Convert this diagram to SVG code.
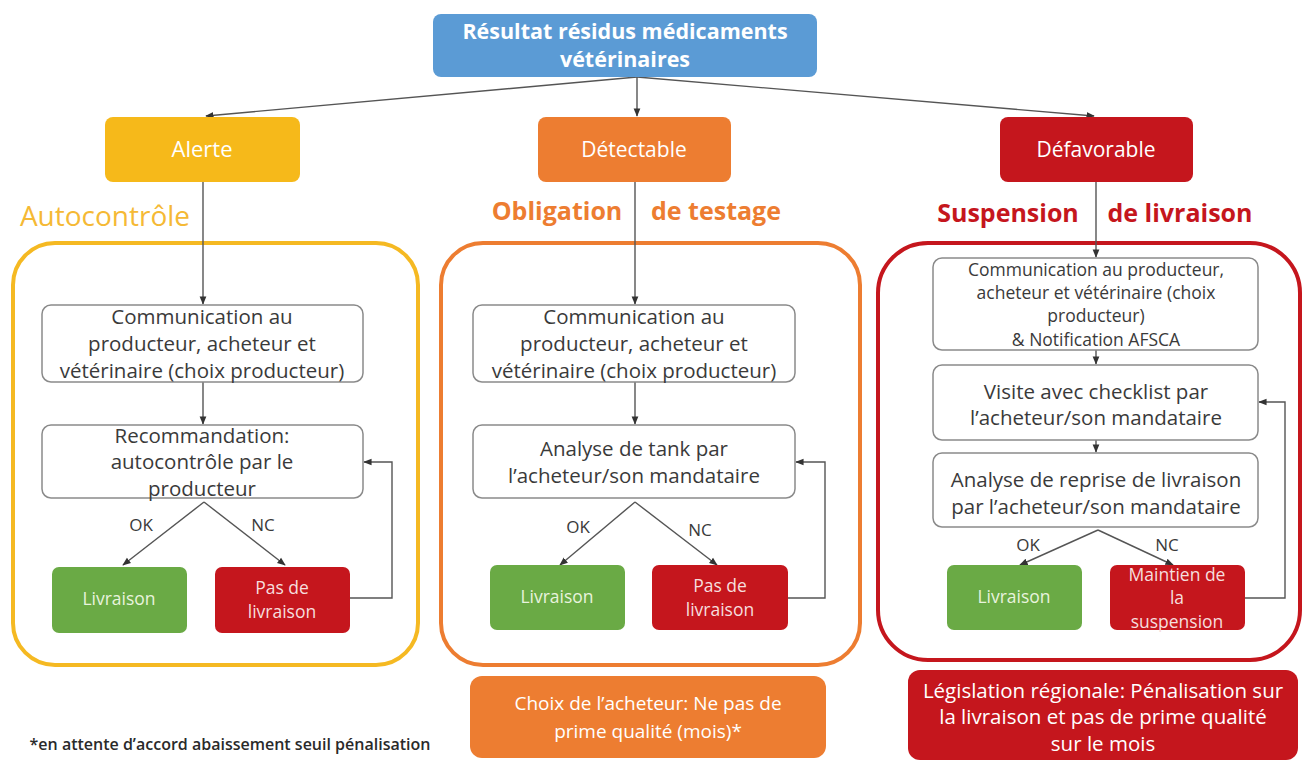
<svg xmlns="http://www.w3.org/2000/svg" width="1303" height="763" viewBox="0 0 1303 763">
<style>
text{font-family:"Open Sans","Liberation Sans",Arial,sans-serif;text-anchor:middle}
.w{fill:#fff}
.d{fill:#3a3a3a;font-weight:500}
.box{fill:#fff;stroke:#8a8a8a;stroke-width:1.5}
.ln{fill:none;stroke:#555;stroke-width:1.4}
.f18{font-size:20.5px}
.f15{font-size:17.5px}
.s{font-size:17.5px}
</style>
<defs>
<marker id="ah" viewBox="0 0 10 10" refX="9" refY="5" markerWidth="6" markerHeight="6" orient="auto-start-reverse"><path d="M0,1 L10,5 L0,9 z" fill="#333"/></marker>
</defs>
<rect width="1303" height="763" fill="#fff"/>

<g id="containers">
<rect x="13" y="243" width="405" height="422" rx="42" fill="none" stroke="#f5b922" stroke-width="4"/>
<rect x="441" y="243" width="419" height="422" rx="42" fill="none" stroke="#ed7d31" stroke-width="4"/>
<rect x="878" y="243" width="422" height="417" rx="50" fill="none" stroke="#c5161d" stroke-width="4"/>
</g>

<g id="connectors">
<line class="ln" x1="637" y1="77" x2="206" y2="116" marker-end="url(#ah)"/>
<line class="ln" x1="637" y1="77" x2="637" y2="116" marker-end="url(#ah)"/>
<line class="ln" x1="637" y1="77" x2="1094" y2="116" marker-end="url(#ah)"/>
<line class="ln" x1="203" y1="182" x2="203" y2="304" marker-end="url(#ah)"/>
<line class="ln" x1="203" y1="382" x2="203" y2="424" marker-end="url(#ah)"/>
<line class="ln" x1="204" y1="502" x2="123" y2="565" marker-end="url(#ah)"/>
<line class="ln" x1="204" y1="502" x2="285" y2="565" marker-end="url(#ah)"/>
<polyline class="ln" points="350,598 392,598 392,462 364,462" marker-end="url(#ah)"/>
<line class="ln" x1="635" y1="182" x2="635" y2="304" marker-end="url(#ah)"/>
<line class="ln" x1="635" y1="382" x2="635" y2="424" marker-end="url(#ah)"/>
<line class="ln" x1="635" y1="502" x2="560" y2="565" marker-end="url(#ah)"/>
<line class="ln" x1="635" y1="502" x2="717" y2="565" marker-end="url(#ah)"/>
<polyline class="ln" points="788,598 825,598 825,462 796,462" marker-end="url(#ah)"/>
<line class="ln" x1="1096" y1="182" x2="1096" y2="257" marker-end="url(#ah)"/>
<line class="ln" x1="1096" y1="350" x2="1096" y2="364" marker-end="url(#ah)"/>
<line class="ln" x1="1096" y1="440" x2="1096" y2="452" marker-end="url(#ah)"/>
<line class="ln" x1="1098" y1="530" x2="1020" y2="565" marker-end="url(#ah)"/>
<line class="ln" x1="1098" y1="530" x2="1173" y2="565" marker-end="url(#ah)"/>
<polyline class="ln" points="1245,598 1285,598 1285,402 1259,402" marker-end="url(#ah)"/>
<text class="d" font-size="17" x="141" y="531">OK</text>
<text class="d" font-size="17" x="263" y="531">NC</text>
<text class="d" font-size="17" x="578" y="533">OK</text>
<text class="d" font-size="17" x="700" y="536">NC</text>
<text class="d" font-size="17" x="1028" y="551">OK</text>
<text class="d" font-size="17" x="1167" y="551">NC</text>
</g>

<g id="n-top">
<rect x="433" y="14" width="384" height="63" rx="8" fill="#5b9bd5"/>
<text class="w" font-size="21.5" font-weight="bold" x="625" y="39">Résultat résidus médicaments</text>
<text class="w" font-size="21.5" font-weight="bold" x="625" y="67">vétérinaires</text>
</g>

<g id="n-alerte">
<rect x="105" y="117" width="195" height="65" rx="8" fill="#f6b91a"/>
<text class="w" font-size="22" x="202" y="157">Alerte</text>
</g>
<g id="n-detectable">
<rect x="538" y="117" width="193" height="65" rx="8" fill="#ed7d31"/>
<text class="w" font-size="21" x="634" y="157">Détectable</text>
</g>
<g id="n-defavorable">
<rect x="1000" y="117" width="193" height="65" rx="8" fill="#c5161d"/>
<text class="w" font-size="21" x="1096" y="157">Défavorable</text>
</g>

<g id="t-labels">
<text font-size="28" x="105" y="226" fill="#f5b935">Autocontrôle</text>
<text font-size="25" font-weight="bold" x="557" y="220" fill="#ed7d31">Obligation</text>
<text font-size="25" font-weight="bold" x="716" y="220" fill="#ed7d31">de testage</text>
<text font-size="25" font-weight="bold" x="1008" y="222" fill="#c5161d">Suspension</text>
<text font-size="25" font-weight="bold" x="1180" y="222" fill="#c5161d">de livraison</text>
</g>

<g id="c1-comm">
<rect class="box" x="42" y="305" width="321" height="77" rx="9"/>
<text class="d f18" x="202" y="324">Communication au</text>
<text class="d f18" x="202" y="351">producteur, acheteur et</text>
<text class="d f18" x="202" y="378">vétérinaire (choix producteur)</text>
</g>
<g id="c1-reco">
<rect class="box" x="42" y="425" width="321" height="73" rx="9"/>
<text class="d f18" x="202" y="443">Recommandation:</text>
<text class="d f18" x="202" y="469">autocontrôle par le</text>
<text class="d f18" x="202" y="496">producteur</text>
</g>
<g id="c1-livr">
<rect x="52" y="567" width="135" height="66" rx="7" fill="#6aaa45"/>
<text class="s" fill="#e8f3dd" x="119" y="605">Livraison</text>
</g>
<g id="c1-pas">
<rect x="215" y="567" width="135" height="66" rx="7" fill="#c5161d"/>
<text class="s" fill="#f6dede" x="282" y="594">Pas de</text>
<text class="s" fill="#f6dede" x="282" y="618">livraison</text>
</g>

<g id="c2-comm">
<rect class="box" x="473" y="305" width="322" height="77" rx="9"/>
<text class="d f18" x="634" y="324">Communication au</text>
<text class="d f18" x="634" y="351">producteur, acheteur et</text>
<text class="d f18" x="634" y="378">vétérinaire (choix producteur)</text>
</g>
<g id="c2-analyse">
<rect class="box" x="473" y="425" width="322" height="73" rx="9"/>
<text class="d f18" x="634" y="456">Analyse de tank par</text>
<text class="d f18" x="634" y="483">l’acheteur/son mandataire</text>
</g>
<g id="c2-livr">
<rect x="490" y="565" width="135" height="65" rx="7" fill="#6aaa45"/>
<text class="s" fill="#e8f3dd" x="557" y="603">Livraison</text>
</g>
<g id="c2-pas">
<rect x="652" y="565" width="136" height="65" rx="7" fill="#c5161d"/>
<text class="s" fill="#f6dede" x="720" y="592">Pas de</text>
<text class="s" fill="#f6dede" x="720" y="616">livraison</text>
</g>

<g id="c3-comm">
<rect class="box" x="933" y="258" width="325" height="92" rx="9"/>
<text class="d f15" x="1096" y="276">Communication au producteur,</text>
<text class="d f15" x="1096" y="299">acheteur et vétérinaire (choix</text>
<text class="d f15" x="1096" y="322">producteur)</text>
<text class="d f15" x="1096" y="346">&amp; Notification AFSCA</text>
</g>
<g id="c3-visite">
<rect class="box" x="933" y="365" width="325" height="75" rx="9"/>
<text class="d f18" x="1096" y="399">Visite avec checklist par</text>
<text class="d f18" x="1096" y="425">l’acheteur/son mandataire</text>
</g>
<g id="c3-analyse">
<rect class="box" x="933" y="453" width="325" height="74" rx="9"/>
<text class="d f18" x="1096" y="487">Analyse de reprise de livraison</text>
<text class="d f18" x="1096" y="514">par l’acheteur/son mandataire</text>
</g>
<g id="c3-livr">
<rect x="947" y="565" width="135" height="65" rx="7" fill="#6aaa45"/>
<text class="s" fill="#e8f3dd" x="1014" y="603">Livraison</text>
</g>
<g id="c3-maintien">
<rect x="1110" y="565" width="135" height="65" rx="7" fill="#c5161d"/>
<text class="s" fill="#f6dede" x="1177" y="581">Maintien de</text>
<text class="s" fill="#f6dede" x="1177" y="604">la</text>
<text class="s" fill="#f6dede" x="1177" y="628">suspension</text>
</g>

<g id="b-orange">
<rect x="470" y="676" width="356" height="82" rx="12" fill="#ed7d31"/>
<text class="w" font-size="19" x="648" y="710">Choix de l’acheteur: Ne pas de</text>
<text class="w" font-size="19" x="648" y="738">prime qualité (mois)*</text>
</g>
<g id="b-red">
<rect x="908" y="670" width="390" height="90" rx="12" fill="#c5161d"/>
<text class="w" font-size="20.5" x="1103" y="698">Législation régionale: Pénalisation sur</text>
<text class="w" font-size="20.5" x="1103" y="724">la livraison et pas de prime qualité</text>
<text class="w" font-size="20.5" x="1103" y="751">sur le mois</text>
</g>
<g id="footnote">
<text fill="#2a2a2a" font-size="16" font-weight="600" x="230" y="750">*en attente d’accord abaissement seuil pénalisation</text>
</g>
</svg>
